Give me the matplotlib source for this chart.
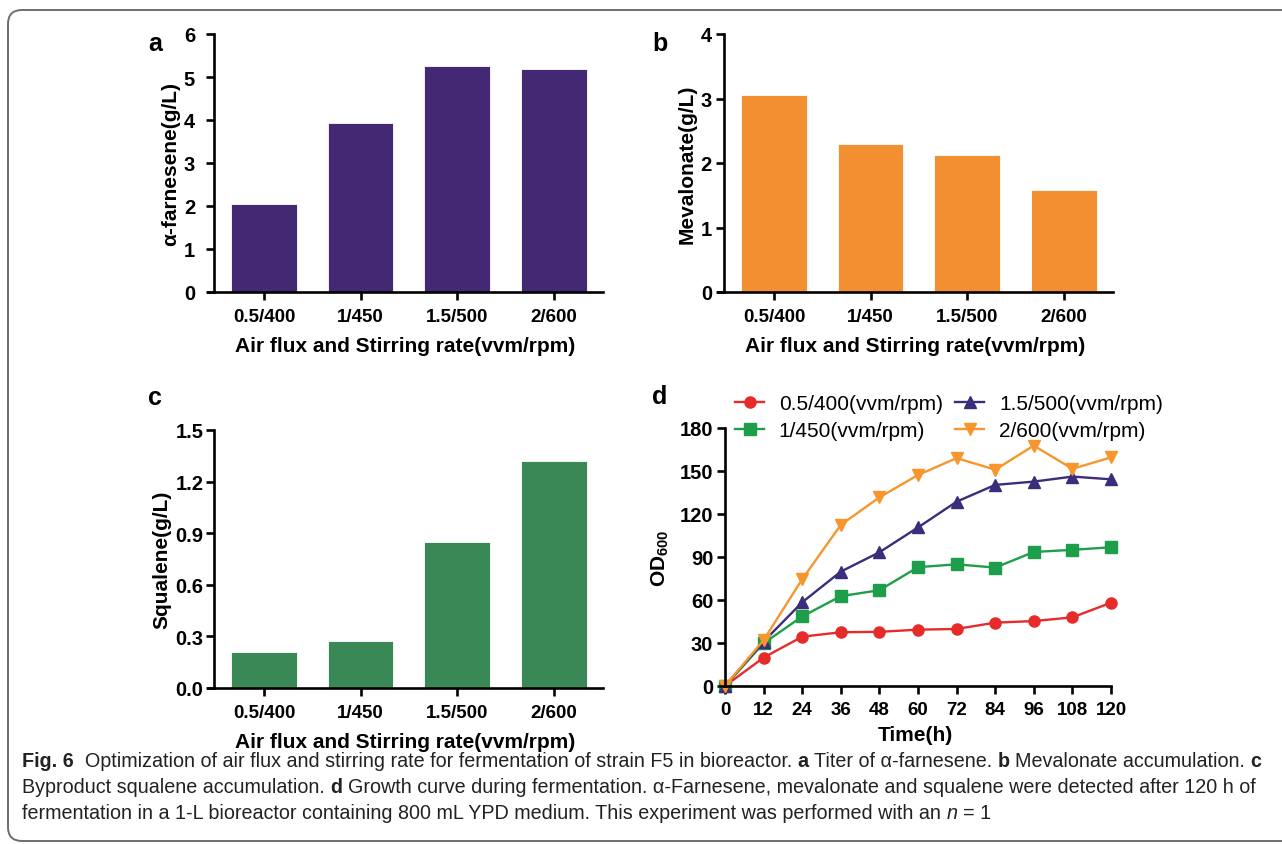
import matplotlib
matplotlib.use("Agg")
import matplotlib.pyplot as plt
from matplotlib.patches import FancyBboxPatch

plt.rcParams['font.family'] = ['Liberation Sans', 'DejaVu Sans']
plt.rcParams['mathtext.fontset'] = 'custom'
plt.rcParams['mathtext.rm'] = 'Liberation Sans'
plt.rcParams['mathtext.bf'] = 'Liberation Sans:bold'

# ---- data ----
conditions = ['0.5/400', '1/450', '1.5/500', '2/600']
farnesene = [2.05, 3.94, 5.25, 5.19]
mevalonate = [3.06, 2.30, 2.13, 1.58]
squalene = [0.21, 0.275, 0.85, 1.32]

time_h = [0, 12, 24, 36, 48, 60, 72, 84, 96, 108, 120]
od_05_400 = [0, 19.8, 34.4, 37.5, 37.8, 39.3, 39.8, 44.2, 45.3, 47.9, 58.1]
od_1_450 = [0, 29.8, 48.5, 62.7, 66.8, 82.9, 84.9, 82.6, 93.5, 95.0, 96.8]
od_15_500 = [0, 31, 58.4, 79.8, 93.3, 110.6, 128.6, 140.3, 142.6, 146.1, 144.2]
od_2_600 = [0, 32, 74.5, 112.4, 131.6, 147.2, 159.0, 150.9, 167.7, 151.5, 159.5]
legend_labels = ['0.5/400(vvm/rpm)', '1/450(vvm/rpm)', '1.5/500(vvm/rpm)', '2/600(vvm/rpm)']

W, H = 1282, 845
fig = plt.figure(figsize=(W / 100, H / 100), dpi=100)
fig.patch.set_facecolor('white')


def px_axes(x0, y_top, x1, y_bot):
    return fig.add_axes([x0 / W, (H - y_bot) / H, (x1 - x0) / W, (y_bot - y_top) / H])


def style_axes(ax, ypad):
    for s in ['top', 'right']:
        ax.spines[s].set_visible(False)
    for s in ['left', 'bottom']:
        ax.spines[s].set_linewidth(1.9)
    ax.tick_params(width=1.9, length=5.5)
    ax.tick_params(axis='x', labelsize=13.5, pad=6)
    ax.tick_params(axis='y', labelsize=14.5, pad=ypad)
    for lab in ax.get_xticklabels() + ax.get_yticklabels():
        lab.set_fontweight('bold')


def bar_panel(ax, values, color, ymax, yticks, yfmt, ylabel, ypad):
    ax.bar(range(len(conditions)), values, width=0.68, color=color, edgecolor='white', linewidth=0.6)
    ax.set_xlim(-0.58, 3.51)
    ax.set_ylim(0, ymax)
    ax.spines['left'].set_position(('data', -0.52))
    ax.set_xticks(range(len(conditions)))
    ax.set_xticklabels(conditions)
    ax.set_yticks(yticks)
    ax.set_yticklabels([yfmt.format(v) for v in yticks])
    ax.set_xlabel('Air flux and Stirring rate(vvm/rpm)', fontsize=15, fontweight='bold', labelpad=8)
    ax.set_ylabel(ylabel, fontsize=15, fontweight='bold', labelpad=3)
    style_axes(ax, ypad)


ax_a = px_axes(208, 35, 603, 293)
bar_panel(ax_a, farnesene, '#432874', 6, [0, 1, 2, 3, 4, 5, 6], '{:g}', 'α-farnesene(g/L)', 8)

ax_b = px_axes(718, 35, 1113, 293)
bar_panel(ax_b, mevalonate, '#F28F30', 4, [0, 1, 2, 3, 4], '{:g}', 'Mevalonate(g/L)', 3)

ax_c = px_axes(208, 431, 603, 689)
bar_panel(ax_c, squalene, '#3A8856', 1.5, [0, 0.3, 0.6, 0.9, 1.2, 1.5], '{:.1f}', 'Squalene(g/L)', 2)

ax_d = px_axes(720, 429, 1111, 687)
series = [(od_05_400, '#E62B2B', 'o'), (od_1_450, '#1E9E4A', 's'),
          (od_15_500, '#3B2C7C', '^'), (od_2_600, '#F7962D', 'v')]
for (vals, col, mk), lab in zip(series, legend_labels):
    ax_d.plot(time_h, vals, color=col, marker=mk, markersize=8, linewidth=1.7,
              label=lab, clip_on=False)
ax_d.set_xlim(-1.55, 120)
ax_d.set_ylim(0, 180)
ax_d.spines['left'].set_position(('data', 0))
ax_d.set_xticks(time_h)
ax_d.set_yticks([0, 30, 60, 90, 120, 150, 180])
ax_d.set_xlabel('Time(h)', fontsize=15, fontweight='bold', labelpad=5)
ax_d.set_ylabel('OD$_\\mathbf{600}$', fontsize=15, fontweight='bold', labelpad=6)
style_axes(ax_d, 3)
ax_d.tick_params(axis='x', pad=5)
fig.legend(*ax_d.get_legend_handles_labels(), ncol=2, loc='upper left',
           bbox_to_anchor=(735 / W, (H - 395) / H), frameon=False, fontsize=15,
           handlelength=1.4, handletextpad=0.7, columnspacing=0.6,
           labelspacing=0.38, borderpad=0, borderaxespad=0)

# panel letters
for letter, (x, y) in zip('abcd', [(148, 44), (652, 44), (148, 398), (652, 397)]):
    fig.text(x / W, (H - y) / H, letter, fontsize=18, fontweight='bold', va='center')

# frame
frame = FancyBboxPatch((8, 3), 1400, 831, boxstyle='round,pad=0,rounding_size=14',
                       transform=None, facecolor='none', edgecolor='#6e6e6e', linewidth=1.4)
fig.patches.append(frame)

# caption
cap_font = ['Liberation Sans', 'DejaVu Sans']
cap_size = 14.2
renderer = fig.canvas.get_renderer()


def measure(txt, weight='normal', style='normal'):
    t = fig.text(0, 0, txt, fontsize=cap_size, family=cap_font, weight=weight, style=style)
    w = t.get_window_extent(renderer).width
    t.remove()
    return w


space_w = measure('x x') - measure('xx')


def rich_line(x, y, parts):
    for txt, weight, style, gap in parts:
        fig.text(x / W, (H - y) / H, txt, fontsize=cap_size, family=cap_font,
                 weight=weight, style=style, va='center', color='#222222')
        x += measure(txt, weight, style) + gap * space_w


N, B, I = 'normal', 'bold', 'italic'
rich_line(22, 762, [
    ('Fig. 6', B, N, 2),
    ('Optimization of air flux and stirring rate for fermentation of strain F5 in bioreactor.', N, N, 1),
    ('a', B, N, 1), ('Titer of α-farnesene.', N, N, 1),
    ('b', B, N, 1), ('Mevalonate accumulation.', N, N, 1),
    ('c', B, N, 0)])
rich_line(22, 788, [
    ('Byproduct squalene accumulation.', N, N, 1),
    ('d', B, N, 1),
    ('Growth curve during fermentation. α-Farnesene, mevalonate and squalene were detected after 120 h of', N, N, 0)])
rich_line(22, 814, [
    ('fermentation in a 1-L bioreactor containing 800 mL YPD medium. This experiment was performed with an', N, N, 1),
    ('n', N, I, 1), ('= 1', N, N, 0)])

fig.savefig('out.png', dpi=100)
